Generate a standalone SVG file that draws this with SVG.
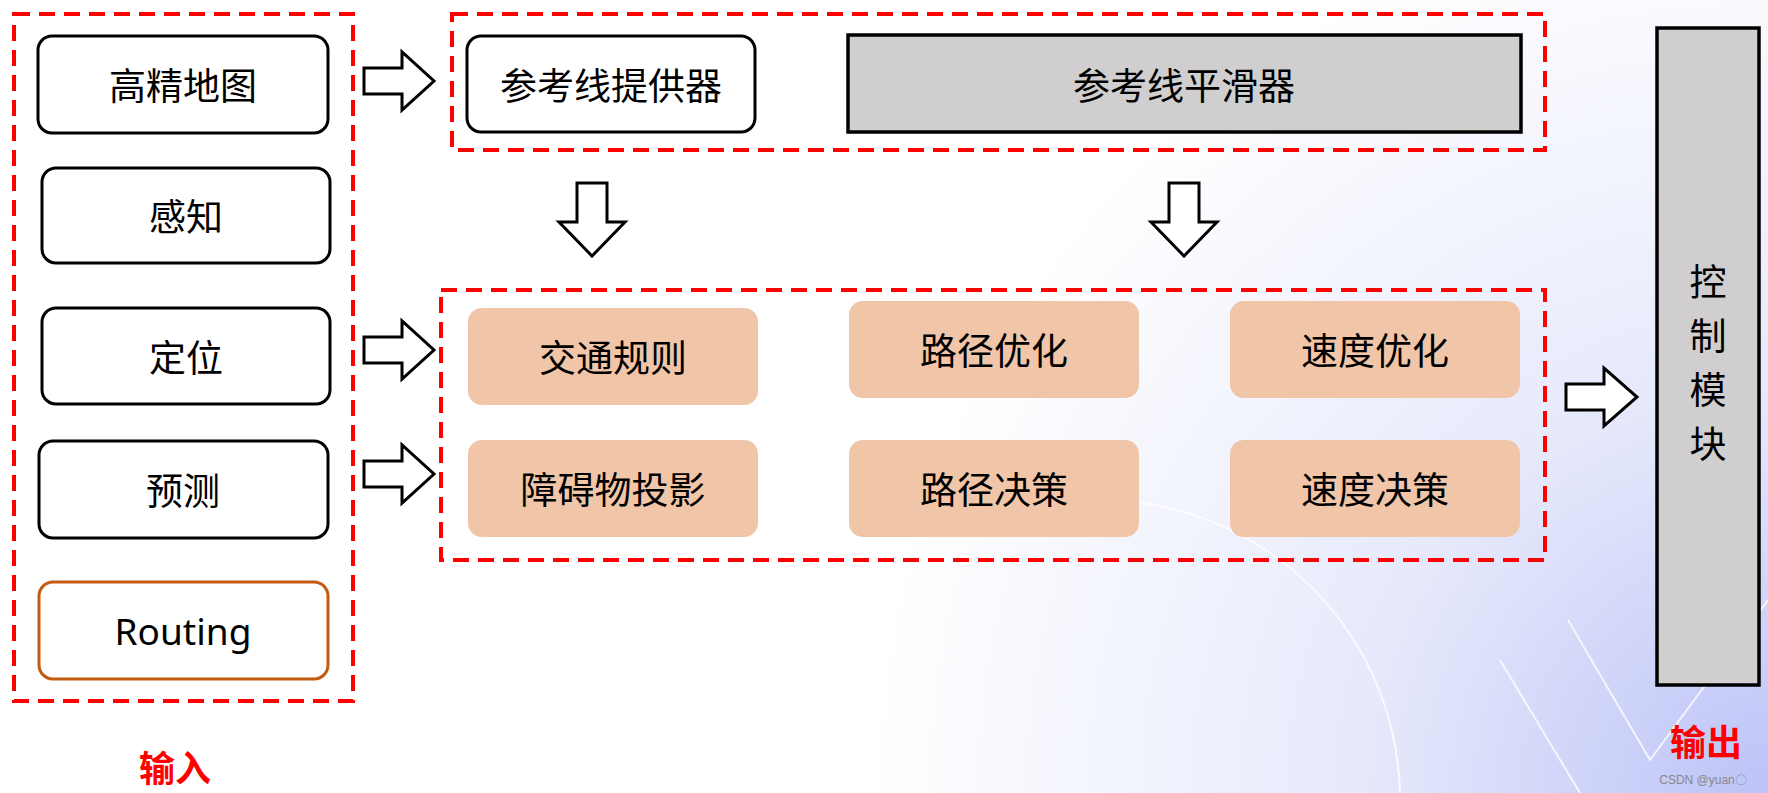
<svg xmlns="http://www.w3.org/2000/svg" width="1768" height="793" viewBox="0 0 1768 793">
<defs>
<radialGradient id="bg" cx="1768" cy="793" r="900" gradientUnits="userSpaceOnUse">
<stop offset="0" stop-color="#bcc3f7"/><stop offset="0.45" stop-color="#e6e9fb"/><stop offset="1" stop-color="#ffffff"/>
</radialGradient>
<style>
text{font-family:"Noto Sans CJK SC","Liberation Sans",sans-serif;font-size:37px;fill:#000;text-anchor:middle;dominant-baseline:central}
.w{fill:#fff;stroke:#000;stroke-width:3}
.o{fill:#f0c5a8;stroke:none}
.g{fill:#d0cece;stroke:#000;stroke-width:3.5}
.d{fill:none;stroke:#ff0000;stroke-width:4;stroke-dasharray:16 9}
.a{fill:#fff;stroke:#000;stroke-width:3}
.r{fill:#ff0000;font-weight:bold;font-size:36px}
</style>
</defs>
<rect width="1768" height="793" fill="url(#bg)"/>
<g fill="none" stroke="#fff" stroke-width="2" opacity="0.8">
<path d="M1568 620 L1650 760 L1768 600"/>
<path d="M1500 660 L1580 793"/>
<circle cx="1100" cy="800" r="300"/>
</g>
<rect class="d" x="14" y="14" width="339" height="687"/>
<rect class="d" x="452" y="14" width="1093" height="136"/>
<rect class="d" x="441" y="290" width="1104" height="270"/>
<g id="n-gjdt"><rect class="w" x="38" y="36" width="290" height="97" rx="14"/><text x="183" y="84">高精地图</text></g>
<g id="n-gz"><rect class="w" x="42" y="168" width="288" height="95" rx="14"/><text x="186" y="215">感知</text></g>
<g id="n-dw"><rect class="w" x="42" y="308" width="288" height="96" rx="14"/><text x="186" y="356">定位</text></g>
<g id="n-yc"><rect class="w" x="39" y="441" width="289" height="97" rx="14"/><text x="183" y="489">预测</text></g>
<g id="n-routing"><rect x="39" y="582" width="289" height="97" rx="14" fill="#fff" stroke="#c55a11" stroke-width="3"/><text x="183" y="630" style="font-family:'Noto Sans','Liberation Sans',sans-serif">Routing</text></g>
<g id="n-tgq"><rect class="w" x="467" y="36" width="288" height="96" rx="14"/><text x="611" y="84">参考线提供器</text></g>
<g id="n-phq"><rect class="g" x="848" y="35" width="673" height="97"/><text x="1184" y="84">参考线平滑器</text></g>
<g id="n-jtgz"><rect class="o" x="468" y="308" width="290" height="97" rx="14"/><text x="613" y="356">交通规则</text></g>
<g id="n-ljyh"><rect class="o" x="849" y="301" width="290" height="97" rx="14"/><text x="994" y="349">路径优化</text></g>
<g id="n-sdyh"><rect class="o" x="1230" y="301" width="290" height="97" rx="14"/><text x="1375" y="349">速度优化</text></g>
<g id="n-zaw"><rect class="o" x="468" y="440" width="290" height="97" rx="14"/><text x="613" y="488">障碍物投影</text></g>
<g id="n-ljjc"><rect class="o" x="849" y="440" width="290" height="97" rx="14"/><text x="994" y="488">路径决策</text></g>
<g id="n-sdjc"><rect class="o" x="1230" y="440" width="290" height="97" rx="14"/><text x="1375" y="488">速度决策</text></g>
<g id="n-kz"><rect class="g" x="1657" y="28" width="102" height="657"/>
<text x="1708" y="280">控</text><text x="1708" y="334">制</text><text x="1708" y="388">模</text><text x="1708" y="442">块</text></g>
<text class="r" x="175" y="766">输入</text>
<text class="r" x="1706" y="740">输出</text>
<text x="1703" y="780" style="font-family:'Liberation Sans',sans-serif;font-size:12px;fill:#888">CSDN @yuan〇</text>
<g id="connectors">
<path class="a" d="M364 68 L402 68 L402 52 L434 81 L402 110 L402 94 L364 94 Z"/>
<path class="a" d="M364 337 L402 337 L402 321 L434 350 L402 379 L402 363 L364 363 Z"/>
<path class="a" d="M364 461 L402 461 L402 445 L434 474 L402 503 L402 487 L364 487 Z"/>
<path class="a" d="M1566 384 L1604 384 L1604 368 L1637 397 L1604 426 L1604 410 L1566 410 Z"/>
<path class="a" d="M577 183 L607 183 L607 222 L625 222 L592 256 L559 222 L577 222 Z"/>
<path class="a" d="M1169 183 L1199 183 L1199 222 L1217 222 L1184 256 L1151 222 L1169 222 Z"/>
</g>
</svg>
